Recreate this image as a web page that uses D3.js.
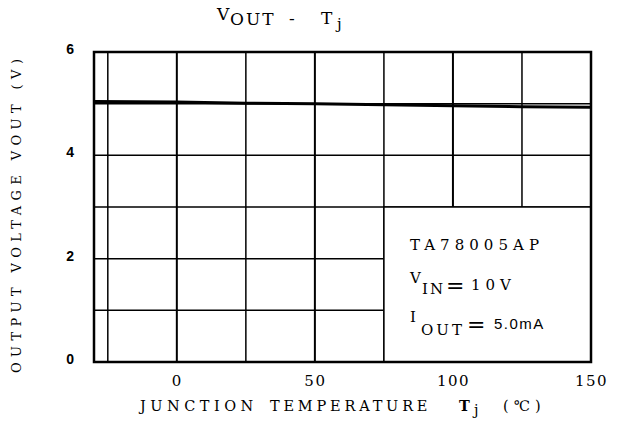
<!DOCTYPE html>
<html><head><meta charset="utf-8">
<script src="https://cdn.jsdelivr.net/npm/d3@7"></script>
<style>body{margin:0;background:#fff}svg{display:block}</style>
</head><body>
<script>
// Data
const tempC = [-30, 0, 25, 50, 75, 100, 125, 150];
const vout = [5.04, 5.03, 5.01, 5.0, 4.98, 4.96, 4.94, 4.93];
const xTicks = [0, 50, 100, 150];
const yTicks = [0, 2, 4, 6];
const xGrid = [-25, 0, 25, 50, 75, 100, 125];
const yGrid = [1, 2, 3, 4, 5];
const legendLines = ["TA78005AP", "VIN", "IOUT"];

const W = 621, H = 441;
const m = {l: 94, r: 30, t: 52, b: 79};
const svg = d3.select("body").append("svg").attr("width", W).attr("height", H);
const x = d3.scaleLinear().domain([-30, 150]).range([m.l, W - m.r]);
const y = d3.scaleLinear().domain([0, 6]).range([H - m.b, m.t]);
const serif = "'DejaVu Serif', 'Liberation Serif', serif";
const sans = "'Liberation Sans', Arial, sans-serif";

// grid
svg.append("g").selectAll("line").data(xGrid).join("line")
  .attr("x1", d => x(d)).attr("x2", d => x(d)).attr("y1", y(0)).attr("y2", y(6))
  .attr("stroke", "#000").attr("stroke-width", d => d % 50 === 0 ? 2 : 1.5);
svg.append("g").selectAll("line").data(yGrid).join("line")
  .attr("x1", x(-30)).attr("x2", x(150)).attr("y1", d => y(d)).attr("y2", d => y(d))
  .attr("stroke", "#000").attr("stroke-width", 1.5);

// data line
svg.append("path").datum(tempC.map((t, i) => [t, vout[i]]))
  .attr("fill", "none").attr("stroke", "#000").attr("stroke-width", 3)
  .attr("d", d3.line().x(d => x(d[0])).y(d => y(d[1])));

// legend box (covers grid)
svg.append("rect").attr("x", x(75)).attr("y", y(3)).attr("width", x(150) - x(75)).attr("height", y(0) - y(3))
  .attr("fill", "#fff").attr("stroke", "#000").attr("stroke-width", 1.5);

// frame
svg.append("rect").attr("x", x(-30)).attr("y", y(6)).attr("width", x(150) - x(-30)).attr("height", y(0) - y(6))
  .attr("fill", "none").attr("stroke", "#000").attr("stroke-width", 2.5);

// axes labels
const xa = svg.append("g").attr("transform", `translate(0,${y(0) + 21})`)
  .call(d3.axisBottom(x).tickValues(xTicks).tickSize(0).tickFormat(d3.format("d")));
xa.select(".domain").remove();
xa.selectAll("text").attr("font-family", serif).attr("font-size", 15).attr("fill", "#000").attr("dy", 0).attr("letter-spacing", 1.5);
const ya = svg.append("g").attr("transform", `translate(${x(-30) - 17},0)`)
  .call(d3.axisLeft(y).tickValues(yTicks).tickSize(0).tickFormat(d3.format("d")));
ya.select(".domain").remove();
ya.selectAll("text").attr("font-family", sans).attr("font-size", 14).attr("font-weight", "bold").attr("fill", "#000").attr("dy", "0.1em");

// title
const title = svg.append("text").attr("x", 217).attr("y", 25).attr("font-family", serif).attr("font-size", 17).attr("fill", "#000");
title.append("tspan").attr("dy", -5).text("V");
title.append("tspan").attr("x", 230).attr("dy", 5).attr("letter-spacing", 2).text("OUT");
title.append("tspan").attr("x", 289).attr("dy", -1).text("-");
title.append("tspan").attr("x", 321).attr("dy", 0).text("T");
title.append("tspan").attr("x", 337).attr("dy", 5).attr("font-size", 15).text("j");

// x axis title
const xt = svg.append("text").attr("x", 140).attr("y", 411).attr("font-family", serif).attr("font-size", 14.5).attr("fill", "#000");
xt.append("tspan").attr("letter-spacing", 4.5).text("JUNCTION");
xt.append("tspan").attr("x", 270).attr("letter-spacing", 3.8).text("TEMPERATURE");
xt.append("tspan").attr("x", 459).attr("font-weight", "bold").text("T");
xt.append("tspan").attr("x", 474).attr("dy", 4).text("j");
xt.append("tspan").attr("x", 503).attr("dy", -4).attr("letter-spacing", 5).text("(\u2103)");

// y axis title
svg.append("text").attr("transform", "translate(21,373) rotate(-90)")
  .attr("font-family", serif).attr("font-size", 13).attr("fill", "#000")
  .attr("textLength", 314).attr("lengthAdjust", "spacing").text("OUTPUT VOLTAGE VOUT (V)");

// legend text
const lg = svg.append("g").attr("font-family", serif).attr("font-size", 15).attr("fill", "#000");
lg.append("text").attr("x", 410).attr("y", 250).attr("textLength", 129).attr("lengthAdjust", "spacing").text(legendLines[0]);
const l2 = lg.append("text").attr("x", 410).attr("y", 283);
l2.append("tspan").text(legendLines[1].slice(0, 1));
l2.append("tspan").attr("x", 422).attr("dy", 11).attr("letter-spacing", 2).text(legendLines[1].slice(1));
l2.append("tspan").attr("x", 446).attr("dy", -1).attr("font-size", 22).text("=");
l2.append("tspan").attr("x", 471).attr("dy", -3).attr("letter-spacing", 5).text("10V");
const l3 = lg.append("text").attr("x", 410).attr("y", 322);
l3.append("tspan").text(legendLines[2].slice(0, 1));
l3.append("tspan").attr("x", 421).attr("dy", 13).attr("letter-spacing", 3).text(legendLines[2].slice(1));
l3.append("tspan").attr("x", 467).attr("dy", -3).attr("font-size", 22).text("=");
l3.append("tspan").attr("x", 494).attr("dy", -3).attr("font-family", sans).attr("letter-spacing", 1.5).text("5.0mA");
</script>
</body></html>
